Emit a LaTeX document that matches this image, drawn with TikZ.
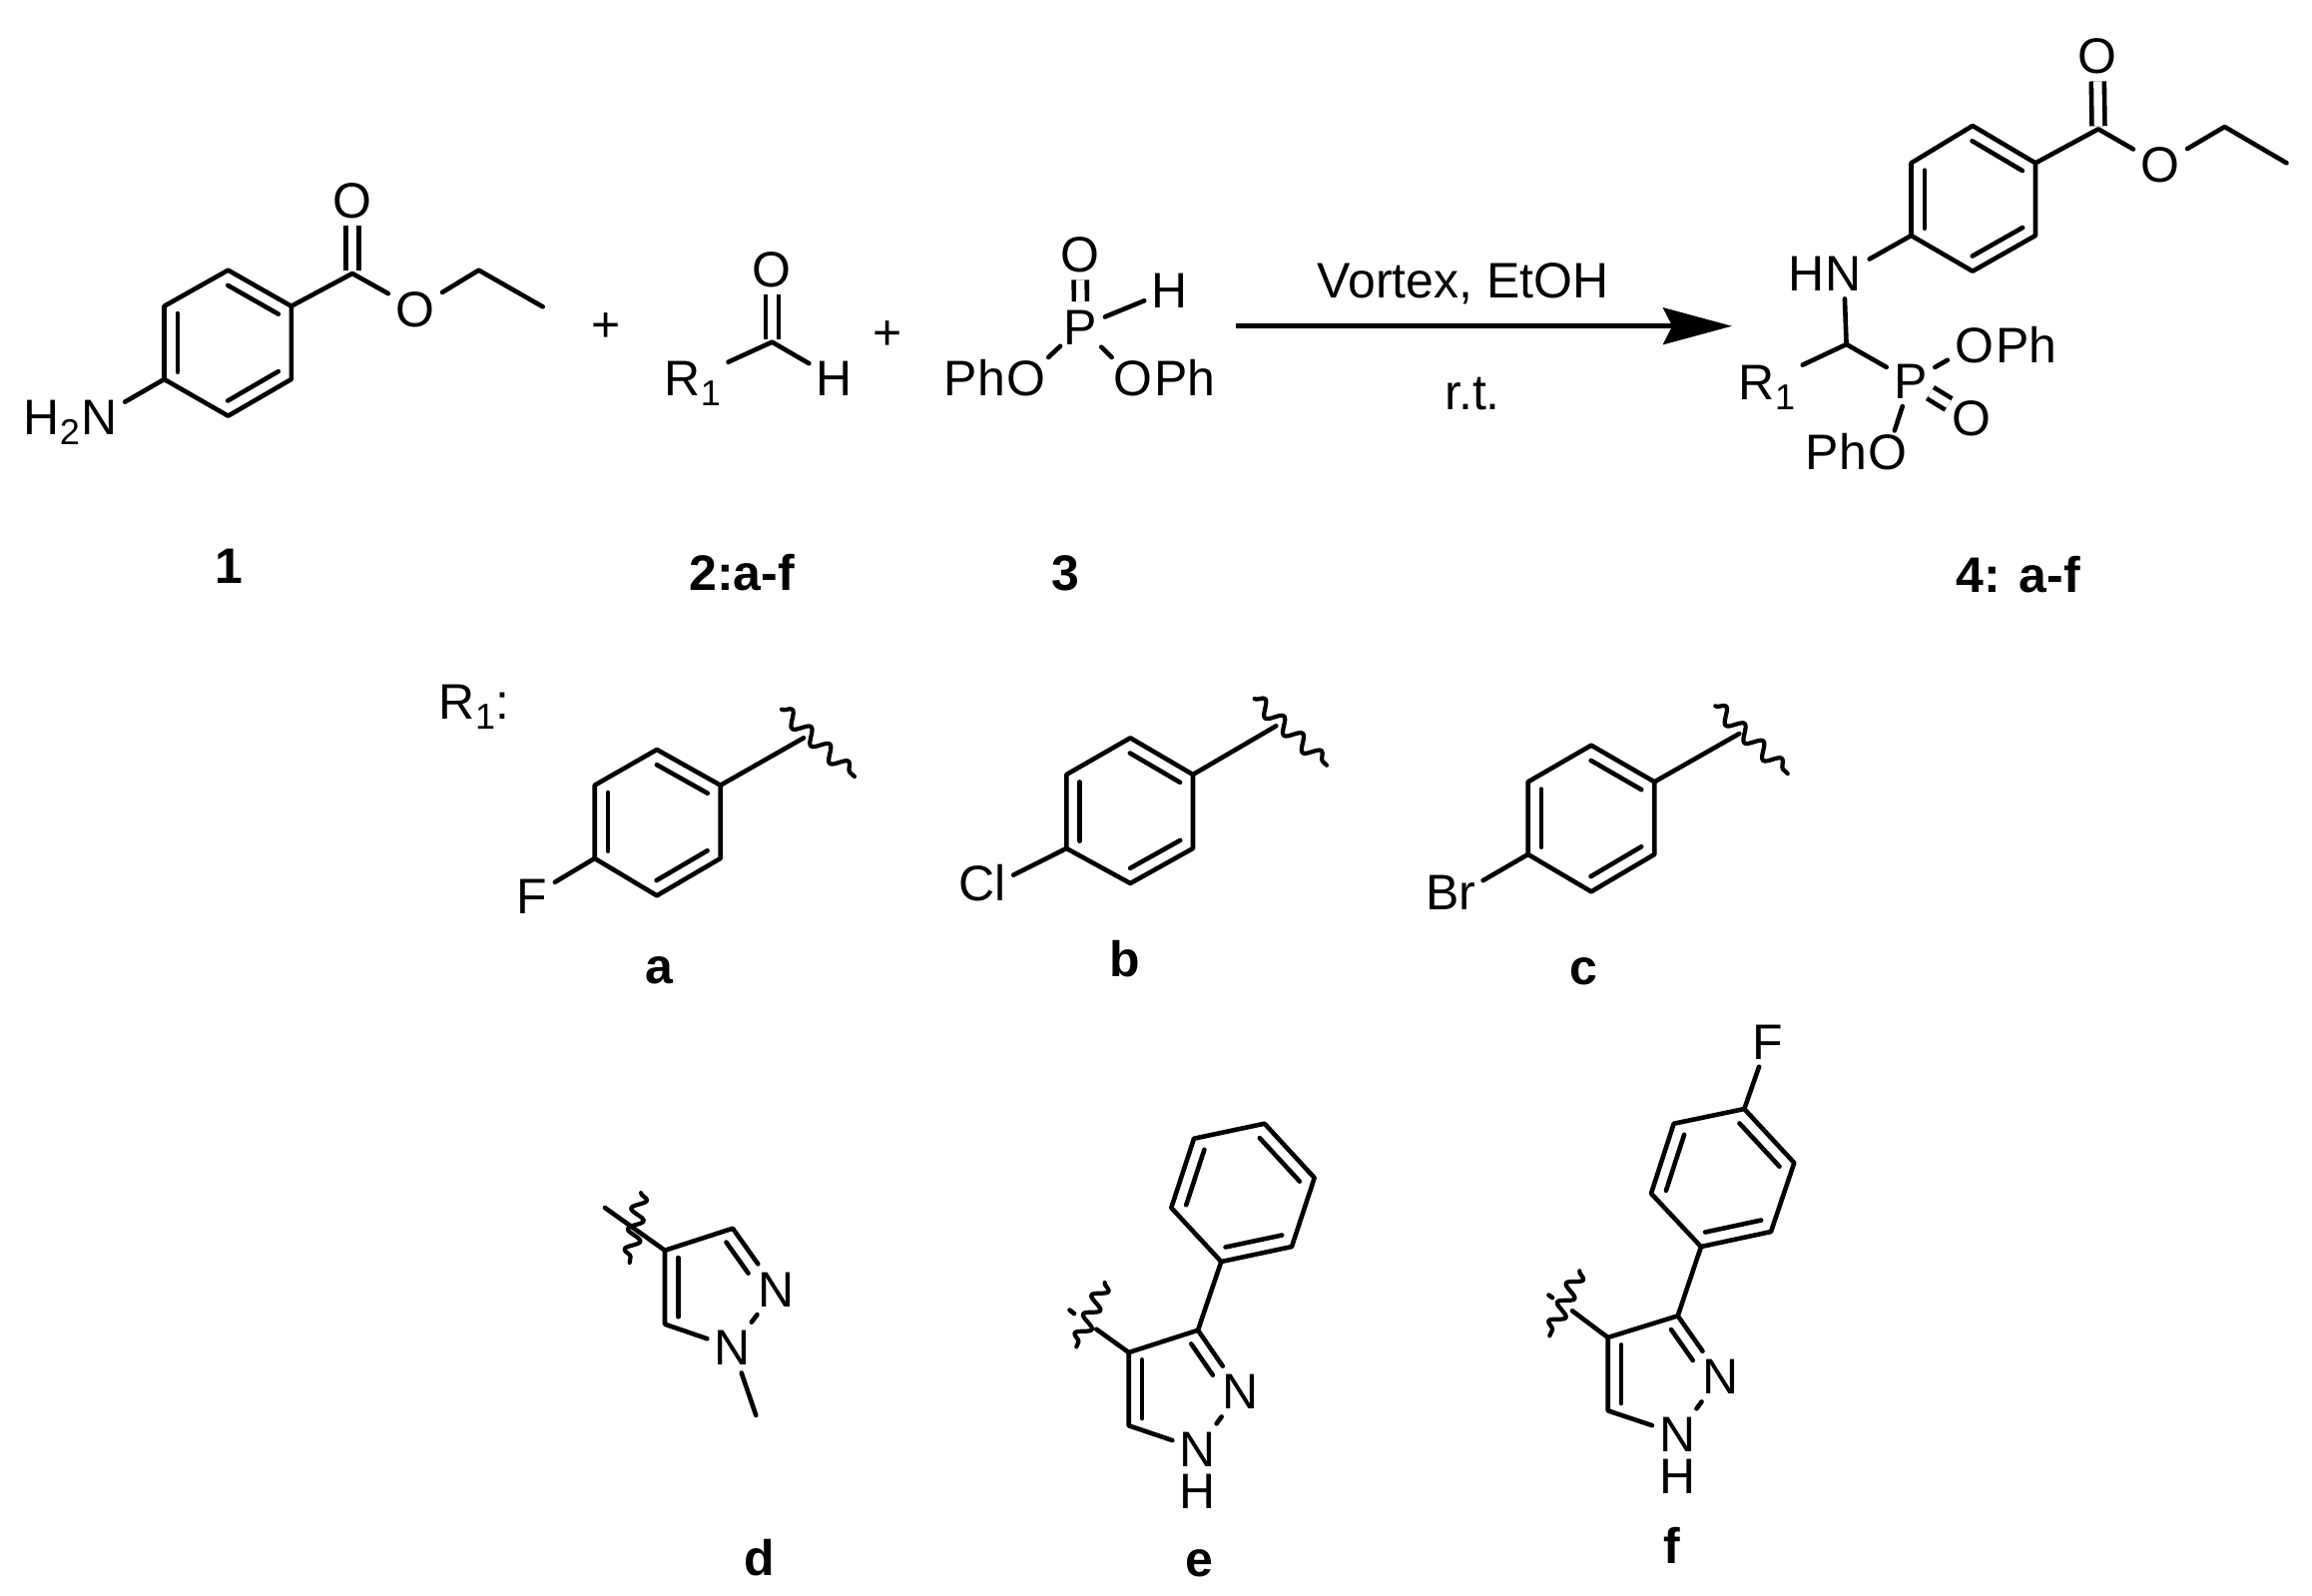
\documentclass[tikz,border=0pt]{standalone}
\usepackage{fontspec}
\setmainfont{Liberation Sans}
\usepackage{tikz}
\usetikzlibrary{arrows,arrows.meta,positioning,calc,decorations.pathmorphing}
\tikzset{bond/.style = {line width=1.15pt,line join=round,line cap=round},
  dblbond/.style = {line width=1.15pt,double,double distance=2.1pt},
  carbonyl/.style = {dblbond,shorten <=.75pt},
  wavy/.style = {line width=1.05pt,line cap=round,line join=round,decorate,decoration={snake,amplitude=1.8pt,segment length=6.4pt}},
  atom/.style = {font=\fontsize{12.5}{14}\selectfont,text height=8.9pt,text depth=0pt,inner sep=1.7pt},
  tight/.style = {inner sep=.6pt},
  tail/.style = {atom,inner xsep=0pt},
  compound/.style = {atom,font=\fontsize{12.5}{14}\selectfont\bfseries}}
\newcommand{\lowsub}[1]{\raisebox{-2.5pt}{\fontsize{9}{9}\selectfont #1}}
\newcommand{\inbond}[3][.1]{\draw[bond] ($(#2)!.1!(#3)!3.33pt!-90:(#3)$) -- ($(#3)!#1!(#2)!3.33pt!90:(#2)$);}
\begin{document}
\begin{tikzpicture}[x=.25pt,y=-.25pt]
\useasboundingbox (0,0) rectangle (2316,1598);
\fill[white] (0,0) rectangle (2316,1598);
%aminobenzoate 1
\coordinate (a1) at (164.5,306.7); \coordinate (a2) at (228.5,270.7); \coordinate (a3) at (291.8,306.7);
\coordinate (a4) at (291.8,380); \coordinate (a5) at (228.5,416.7); \coordinate (a6) at (164.5,380);
\coordinate (ac) at (353,274); \coordinate (ae1) at (479.6,270.7); \coordinate (ae2) at (543.7,307.3);
\node[atom] (aO) at (353,200.7) {O}; \node[atom] (aOe) at (416,309.3) {O};
\node[atom] (aN) at (99.5,417.4) {N}; \node[tail,left=-1.7pt of aN] (aH) {H\lowsub{2}};
\draw[carbonyl] (ac) -- (aO);
\draw[bond] (a1) -- (a2) -- (a3) -- (a4) -- (a5) -- (a6) -- cycle;
\inbond{a2}{a3} \inbond{a4}{a5} \inbond{a6}{a1}
\draw[bond] (a3) -- (ac) -- (aOe); \draw[bond] (aOe) -- (ae1) -- (ae2); \draw[bond] (a6) -- (aN);
\node[atom] (plus1) at (607,325) {+};
%aldehyde 2
\coordinate (bc) at (773.4,342.7);
\node[atom] (bO) at (773.4,270) {O}; \node[atom] (bH) at (836,379) {H};
\node[atom] (bR) at (693.8,379) {R\lowsub{1}};
\draw[carbonyl] (bc) -- (bO);
\draw[bond] (bR) -- (bc) -- (bH);
\node[atom] (plus2) at (889,332.7) {+};
%phosphite 3
\node[atom] (cP) at (1082.6,327.4) {P}; \node[atom] (cO) at (1082,255) {O}; \node[atom] (cH) at (1172,290.7) {H};
\node[atom,tight] (cO1) at (1028,379) {O}; \node[tail,left=-.6pt of cO1] (cPh1) {Ph};
\node[atom,tight] (cO2) at (1135,379) {O}; \node[tail,right=-.6pt of cO2] (cPh2) {Ph};
\draw[dblbond] (cP) -- (cO);
\draw[bond] (cP) -- (cH);
\draw[bond,shorten <=-1.3pt] (cP) -- (cO1);
\draw[bond,shorten <=-1.3pt] (cP) -- (cO2);
%reaction arrow
\coordinate (arrowL) at (1238,326.7); \coordinate (arrowR) at (1735,326.7);
\draw[line width=1.15pt,-{Stealth[length=17.25pt,width=9.2pt,inset=2.3pt]}] (arrowL) -- (arrowR);
\node[atom] (cond1) at (1465.6,280.4) {Vortex, EtOH};
\node[atom] (cond2) at (1475,392.4) {r.t.};
%product 4
\coordinate (p1) at (1914.5,163.3); \coordinate (p2) at (1976,126); \coordinate (p3) at (2039,163.3);
\coordinate (p4) at (2039,236); \coordinate (p5) at (1976,271.7); \coordinate (p6) at (1914.5,236);
\coordinate (pc) at (2102,129.3); \coordinate (pe1) at (2228.5,127); \coordinate (pe2) at (2290.5,163.3);
\coordinate (pch) at (1849.6,345);
\node[atom] (pO) at (2101,56) {O}; \node[atom] (pOe) at (2164,165) {O};
\node[atom] (pN) at (1847,274) {N}; \node[tail,left=-1.7pt of pN] (pH) {H};
\node[atom] (pR) at (1770,382.4) {R\lowsub{1}};
\node[atom] (pP) at (1914,381.7) {P};
\node[atom] (pO1) at (1978,345.4) {O}; \node[tail,right=-1.7pt of pO1] (pPh1) {Ph};
\node[atom] (pO2) at (1975,419) {O};
\node[atom,tight] (pO3) at (1891,452.4) {O}; \node[tail,left=-.6pt of pO3] (pPh3) {Ph};
\draw[carbonyl] (pc) -- (pO);
\draw[dblbond,shorten <=-1.4pt,shorten >=-1.2pt] (pP) -- (pO2);
\draw[bond] (p1) -- (p2) -- (p3) -- (p4) -- (p5) -- (p6) -- cycle;
\inbond{p2}{p3} \inbond{p4}{p5} \inbond{p6}{p1}
\draw[bond] (p3) -- (pc) -- (pOe); \draw[bond] (pOe) -- (pe1) -- (pe2);
\draw[bond] (p6) -- (pN); \draw[bond] (pN) -- (pch);
\draw[bond] (pR) -- (pch) -- (pP);
\draw[bond] (pP) -- (pO1); \draw[bond] (pP) -- (pO3);
%compound numbers
\node[compound] (no1) at (229,567) {1};
\node[compound] (no2) at (743,574) {2:a-f};
\node[compound] (no3) at (1067,574) {3};
\node[compound] (no4) at (2022,576) {4: a-f};
\node[atom] (Rlabel) at (475,702.4) {R\lowsub{1}:};
%fluorophenyl a
\coordinate (fa1) at (595.7,786.7); \coordinate (fa2) at (658,751); \coordinate (fa3) at (721.7,786.7);
\coordinate (fa4) at (721.7,860); \coordinate (fa5) at (658,897.3); \coordinate (fa6) at (595.7,860);
\coordinate (fa7) at (805,739.3); \coordinate (fw1) at (783,710.7); \coordinate (fw2) at (856,778);
\node[atom] (faF) at (533,897.5) {F};
\draw[bond] (fa1) -- (fa2) -- (fa3) -- (fa4) -- (fa5) -- (fa6) -- cycle;
\inbond{fa2}{fa3} \inbond{fa4}{fa5} \inbond{fa6}{fa1}
\draw[bond] (fa3) -- (fa7); \draw[bond] (fa6) -- (faF);
\draw[wavy] (fw1) -- (fw2);
\node[compound] (labela) at (660.7,968) {a};
%chlorophenyl b
\coordinate (cl1) at (1068.3,776); \coordinate (cl2) at (1132.3,739.3); \coordinate (cl3) at (1195,776);
\coordinate (cl4) at (1195,850); \coordinate (cl5) at (1132.3,885); \coordinate (cl6) at (1068.3,850);
\coordinate (cl7) at (1278.3,727.3); \coordinate (clw1) at (1256.7,700); \coordinate (clw2) at (1329,766.7);
\node[atom] (clX) at (984,885) {Cl};
\draw[bond] (cl1) -- (cl2) -- (cl3) -- (cl4) -- (cl5) -- (cl6) -- cycle;
\inbond{cl2}{cl3} \inbond{cl4}{cl5} \inbond{cl6}{cl1}
\draw[bond] (cl3) -- (cl7); \draw[bond] (cl6) -- (clX.15);
\draw[wavy] (clw1) -- (clw2);
\node[compound] (labelb) at (1126.7,961) {b};
%bromophenyl c
\coordinate (br1) at (1530.7,783.3); \coordinate (br2) at (1594,746.7); \coordinate (br3) at (1657.3,783.3);
\coordinate (br4) at (1657.3,856); \coordinate (br5) at (1594,893.3); \coordinate (br6) at (1530.7,856);
\coordinate (br7) at (1742.3,735); \coordinate (brw1) at (1718.3,707.3); \coordinate (brw2) at (1790.7,775);
\node[atom] (brX) at (1453,894) {Br};
\draw[bond] (br1) -- (br2) -- (br3) -- (br4) -- (br5) -- (br6) -- cycle;
\inbond{br2}{br3} \inbond{br4}{br5} \inbond{br6}{br1}
\draw[bond] (br3) -- (br7); \draw[bond] (br6) -- (brX.20);
\draw[wavy] (brw1) -- (brw2);
\node[compound] (labelc) at (1586.7,969) {c};
%methylpyrazole d
\coordinate (d4) at (666,1252.7); \coordinate (d5) at (734,1230.7); \coordinate (d3) at (666,1326.7);
\coordinate (dout) at (606,1210); \coordinate (dme) at (757.3,1418);
\coordinate (dw1) at (642,1195); \coordinate (dw2) at (630.7,1265);
\node[atom] (dN2) at (777.3,1291.7) {N}; \node[atom] (dN1) at (734,1350) {N};
\draw[bond] (dN1) -- (d3) -- (d4) -- (d5) -- (dN2); \draw[bond] (dN2) -- (dN1);
\inbond{d3}{d4} \inbond[.39]{d5}{dN2}
\draw[bond] (d4) -- (dout); \draw[bond] (dN1) -- (dme);
\draw[wavy,decoration={segment length=5.2pt}] (dw1) -- (dw2);
\node[compound] (labeld) at (761,1561) {d};
%phenylpyrazole e
\coordinate (e1) at (1196,1140.7); \coordinate (e2) at (1266.7,1125.7); \coordinate (e3) at (1316.7,1180);
\coordinate (e4) at (1294,1249); \coordinate (e5) at (1223.3,1264); \coordinate (e6) at (1173.3,1210);
\coordinate (ec3) at (1200,1332.7); \coordinate (ec4) at (1130.7,1355); \coordinate (ec5) at (1130.7,1428.3);
\coordinate (eout) at (1098.3,1331.7); \coordinate (estub1) at (1071.5,1312.5); \coordinate (estub2) at (1076,1316);
\coordinate (ew1) at (1106.7,1285); \coordinate (ew2) at (1078.3,1349.3);
\node[atom] (eN2) at (1242.3,1394) {N}; \node[atom] (eN1) at (1200,1451.7) {N}; \node[atom,inner sep=0pt] (eH) at (1200,1494) {H};
\draw[bond] (e1) -- (e2) -- (e3) -- (e4) -- (e5) -- (e6) -- cycle;
\inbond{e6}{e1} \inbond{e2}{e3} \inbond{e4}{e5}
\draw[bond] (e5) -- (ec3);
\draw[bond] (eN1) -- (ec5) -- (ec4) -- (ec3) -- (eN2); \draw[bond] (eN2) -- (eN1);
\inbond{ec5}{ec4} \inbond[.39]{ec3}{eN2}
\draw[bond] (ec4) -- (eout); \draw[bond] (estub1) -- (estub2);
\draw[wavy,decoration={segment length=5.2pt}] (ew1) -- (ew2);
\node[compound] (labele) at (1201,1562) {e};
%fluorophenylpyrazole f
\coordinate (f1) at (1676.7,1125.7); \coordinate (f2) at (1747.3,1111); \coordinate (f3) at (1797.3,1165);
\coordinate (f4) at (1774,1234); \coordinate (f5) at (1704,1249); \coordinate (f6) at (1654,1195.7);
\coordinate (fc3) at (1680.7,1318.3); \coordinate (fc4) at (1610.7,1340); \coordinate (fc5) at (1610.7,1413.3);
\coordinate (fout) at (1575,1313.3); \coordinate (fstub1) at (1551.5,1297.5); \coordinate (fstub2) at (1555,1300);
\coordinate (fw3) at (1582.3,1273.3); \coordinate (fw4) at (1552.3,1338.3);
\node[atom] (fF) at (1771,1043.3) {F};
\node[atom] (fN2) at (1723.3,1379) {N}; \node[atom] (fN1) at (1680.7,1436.7) {N}; \node[atom,inner sep=0pt] (fH) at (1680.7,1479) {H};
\draw[bond] (f1) -- (f2) -- (f3) -- (f4) -- (f5) -- (f6) -- cycle;
\inbond{f6}{f1} \inbond{f2}{f3} \inbond{f4}{f5}
\draw[bond] (f5) -- (fc3); \draw[bond] (f2) -- (fF);
\draw[bond] (fN1) -- (fc5) -- (fc4) -- (fc3) -- (fN2); \draw[bond] (fN2) -- (fN1);
\inbond{fc5}{fc4} \inbond[.39]{fc3}{fN2}
\draw[bond] (fc4) -- (fout); \draw[bond] (fstub1) -- (fstub2);
\draw[wavy,decoration={segment length=5.2pt}] (fw3) -- (fw4);
\node[compound] (labelf) at (1675,1549) {f};
\end{tikzpicture}
\end{document}
